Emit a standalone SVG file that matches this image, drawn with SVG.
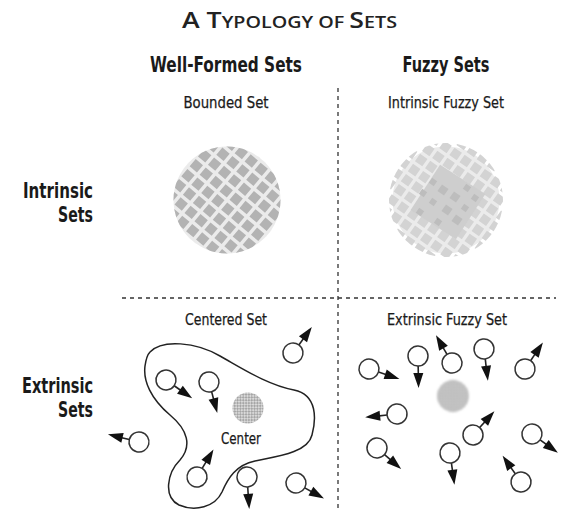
<svg xmlns="http://www.w3.org/2000/svg" xmlns:xlink="http://www.w3.org/1999/xlink" width="582" height="532" viewBox="0 0 582 532">
<style>
.t{font-family:'DejaVu Sans Condensed','DejaVu Sans',sans-serif;font-stretch:condensed;fill:#1a1a1a}
.h{font-size:22px;font-weight:bold}
.s{font-size:16px;stroke:#1a1a1a;stroke-width:0.25}
.title{font-family:'Open Sans','DejaVu Sans',sans-serif;font-weight:600;fill:#222}
.dash{stroke:#333;stroke-width:1.3;stroke-dasharray:4 4;fill:none}
.ag circle{fill:#fff;stroke:#333;stroke-width:1.5}
.ag line{stroke:#222;stroke-width:1.6}
.ag polygon{fill:#111}
.row{stroke-width:9.5;stroke-dasharray:9.5 3.5;fill:none}
</style>
<defs>
<pattern id="fine" width="4" height="4" patternUnits="userSpaceOnUse" patternTransform="rotate(45)">
<rect width="4" height="4" fill="#dadada"/>
<rect width="2" height="2" fill="#a6a6a6"/>
<rect x="2" y="2" width="2" height="2" fill="#a6a6a6"/>
</pattern>
<clipPath id="bclip"><circle cx="227" cy="200" r="53.5"/></clipPath>
<clipPath id="fclip"><circle cx="446" cy="200" r="57"/></clipPath>
<filter id="soft" x="-20%" y="-20%" width="140%" height="140%"><feGaussianBlur stdDeviation="0.4"/></filter>
<filter id="blur2" x="-30%" y="-30%" width="160%" height="160%"><feGaussianBlur stdDeviation="0.9"/></filter>
<g id="rows">
<line class="row" x1="-63.25" y1="-58.5" x2="63.25" y2="-58.5"/>
<line class="row" x1="-63.25" y1="-45.5" x2="63.25" y2="-45.5"/>
<line class="row" x1="-63.25" y1="-32.5" x2="63.25" y2="-32.5"/>
<line class="row" x1="-63.25" y1="-19.5" x2="63.25" y2="-19.5"/>
<line class="row" x1="-63.25" y1="-6.5" x2="63.25" y2="-6.5"/>
<line class="row" x1="-63.25" y1="6.5" x2="63.25" y2="6.5"/>
<line class="row" x1="-63.25" y1="19.5" x2="63.25" y2="19.5"/>
<line class="row" x1="-63.25" y1="32.5" x2="63.25" y2="32.5"/>
<line class="row" x1="-63.25" y1="45.5" x2="63.25" y2="45.5"/>
<line class="row" x1="-63.25" y1="58.5" x2="63.25" y2="58.5"/>
</g>
<g id="agent" class="ag">
<line x1="10" y1="0" x2="20" y2="0"/>
<polygon points="17,-5 32,0 17,5"/>
<circle r="10"/>
</g>
</defs>
<rect width="582" height="532" fill="#fff"/>

<g id="title">
<text class="title" x="182" y="28" textLength="215" lengthAdjust="spacingAndGlyphs"><tspan font-size="21">A T</tspan><tspan font-size="15.5">YPOLOGY OF </tspan><tspan font-size="21">S</tspan><tspan font-size="15.5">ETS</tspan></text>
</g>

<g id="headers">
<text class="t h" x="226" y="72" text-anchor="middle" textLength="152" lengthAdjust="spacingAndGlyphs">Well-Formed Sets</text>
<text class="t h" x="446" y="72" text-anchor="middle" textLength="87" lengthAdjust="spacingAndGlyphs">Fuzzy Sets</text>
<text class="t h" x="93" y="198" text-anchor="end" textLength="70" lengthAdjust="spacingAndGlyphs">Intrinsic</text>
<text class="t h" x="93" y="222" text-anchor="end" textLength="35" lengthAdjust="spacingAndGlyphs">Sets</text>
<text class="t h" x="93" y="393" text-anchor="end" textLength="71" lengthAdjust="spacingAndGlyphs">Extrinsic</text>
<text class="t h" x="93" y="417" text-anchor="end" textLength="35" lengthAdjust="spacingAndGlyphs">Sets</text>
</g>

<g id="dividers">
<line class="dash" x1="338" y1="88" x2="338" y2="510"/>
<line class="dash" x1="122" y1="298" x2="556" y2="298"/>
</g>

<g id="bounded-set">
<text class="t s" x="226" y="108" text-anchor="middle" textLength="85" lengthAdjust="spacingAndGlyphs">Bounded Set</text>
<g filter="url(#soft)">
<circle cx="227" cy="200" r="53.5" fill="#ebebeb"/>
<g clip-path="url(#bclip)">
<use xlink:href="#rows" href="#rows" stroke="#b3b3b3" transform="translate(227 200) rotate(40)"/>
</g>
</g>
</g>

<g id="intrinsic-fuzzy-set">
<text class="t s" x="446" y="108" text-anchor="middle" textLength="116" lengthAdjust="spacingAndGlyphs">Intrinsic Fuzzy Set</text>
<g filter="url(#soft)">
<circle cx="446" cy="200" r="53.5" fill="#ebebeb"/>
<g clip-path="url(#fclip)">
<use xlink:href="#rows" href="#rows" stroke="#d3d3d3" transform="translate(446 200) rotate(35) scale(0.95)"/>
</g>
<rect x="421" y="175" width="54" height="54" fill="#cecece" transform="rotate(33 448 202)"/>
<g fill="#bdbdbd">
<rect x="430" y="179" width="6" height="6" transform="rotate(35 433 182)"/>
<rect x="439" y="186" width="8" height="8" transform="rotate(35 443 190)"/>
<rect x="420" y="190" width="6" height="6" transform="rotate(35 423 193)"/>
<rect x="451" y="193" width="8" height="8" transform="rotate(35 455 197)"/>
<rect x="464" y="185" width="6" height="6" transform="rotate(35 467 188)"/>
<rect x="430" y="199" width="6" height="6" transform="rotate(35 433 202)"/>
<rect x="443" y="206" width="8" height="8" transform="rotate(35 447 210)"/>
<rect x="462" y="205" width="6" height="6" transform="rotate(35 465 208)"/>
<rect x="417" y="209" width="6" height="6" transform="rotate(35 420 212)"/>
<rect x="453" y="216" width="8" height="8" transform="rotate(35 457 220)"/>
<rect x="435" y="219" width="6" height="6" transform="rotate(35 438 222)"/>
<rect x="472" y="195" width="6" height="6" transform="rotate(35 475 198)"/>
</g>
</g>
</g>

<g id="centered-set">
<text class="t s" x="226" y="325" text-anchor="middle" textLength="82" lengthAdjust="spacingAndGlyphs">Centered Set</text>
<path d="M150,352 C162,339 196,342 220,356 C245,370 268,385 294,390 C318,395 316,420 312,435 C308,452 280,456 255,461 C236,465 228,478 222,492 C215,507 195,512 179,505 C163,497 167,473 180,460 C192,446 188,430 170,415 C151,399 143,381 145,366 C146,359 147,355 150,352 Z" fill="none" stroke="#222" stroke-width="1.5"/>
<circle cx="248" cy="408" r="15.5" fill="url(#fine)" filter="url(#soft)"/>
<text class="t s" x="241" y="444" text-anchor="middle" textLength="40" lengthAdjust="spacingAndGlyphs">Center</text>
</g>

<g id="extrinsic-fuzzy-set">
<text class="t s" x="447" y="325" text-anchor="middle" textLength="120" lengthAdjust="spacingAndGlyphs">Extrinsic Fuzzy Set</text>
<circle cx="453" cy="396" r="16" fill="url(#fine)" filter="url(#blur2)"/>
</g>

<g id="connectors">
<g id="centered-agents">
<use xlink:href="#agent" href="#agent" transform="translate(166 380) rotate(35)"/>
<use xlink:href="#agent" href="#agent" transform="translate(209 382) rotate(75)"/>
<use xlink:href="#agent" href="#agent" transform="translate(197 477) rotate(-59)"/>
<use xlink:href="#agent" href="#agent" transform="translate(247 477) rotate(86)"/>
<use xlink:href="#agent" href="#agent" transform="translate(296 483) rotate(29)"/>
<use xlink:href="#agent" href="#agent" transform="translate(139 442) rotate(-166)"/>
<use xlink:href="#agent" href="#agent" transform="translate(293 353) rotate(-54)"/>
</g>
<g id="fuzzy-agents">
<use xlink:href="#agent" href="#agent" transform="translate(369 369) rotate(18)"/>
<use xlink:href="#agent" href="#agent" transform="translate(418 356) rotate(89)"/>
<use xlink:href="#agent" href="#agent" transform="translate(452 363) rotate(-120)"/>
<use xlink:href="#agent" href="#agent" transform="translate(484 349) rotate(83)"/>
<use xlink:href="#agent" href="#agent" transform="translate(525 369) rotate(-56)"/>
<use xlink:href="#agent" href="#agent" transform="translate(397 414) rotate(174)"/>
<use xlink:href="#agent" href="#agent" transform="translate(473 435) rotate(-48)"/>
<use xlink:href="#agent" href="#agent" transform="translate(532 434) rotate(36)"/>
<use xlink:href="#agent" href="#agent" transform="translate(377 448) rotate(41)"/>
<use xlink:href="#agent" href="#agent" transform="translate(450 453) rotate(82)"/>
<use xlink:href="#agent" href="#agent" transform="translate(521 482) rotate(-125)"/>
</g>
</g>
</svg>
